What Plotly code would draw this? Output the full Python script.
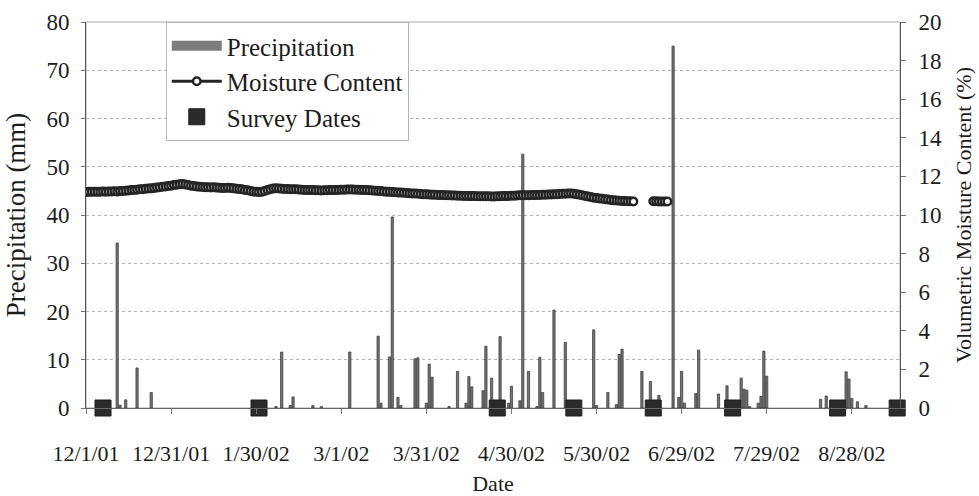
import pandas as pd
import plotly.graph_objects as go

# ---- daily precipitation (mm) ----
PRECIP_DATES = [
    "2001-12-12", "2001-12-13", "2001-12-15", "2001-12-19", "2001-12-24",
    "2002-02-06", "2002-02-08", "2002-02-11", "2002-02-12", "2002-02-19", "2002-02-22",
    "2002-03-04", "2002-03-14", "2002-03-15", "2002-03-18", "2002-03-19", "2002-03-21",
    "2002-03-22", "2002-03-27", "2002-03-28", "2002-03-31",
    "2002-04-01", "2002-04-02", "2002-04-08", "2002-04-11", "2002-04-14", "2002-04-15",
    "2002-04-16", "2002-04-20", "2002-04-21", "2002-04-23", "2002-04-26", "2002-04-29",
    "2002-04-30",
    "2002-05-03", "2002-05-04", "2002-05-06", "2002-05-09", "2002-05-10", "2002-05-11",
    "2002-05-15", "2002-05-19", "2002-05-29", "2002-05-30",
    "2002-06-03", "2002-06-06", "2002-06-07", "2002-06-08", "2002-06-15", "2002-06-18",
    "2002-06-20", "2002-06-21", "2002-06-26", "2002-06-28", "2002-06-29", "2002-06-30",
    "2002-07-04", "2002-07-05", "2002-07-12", "2002-07-15", "2002-07-20", "2002-07-21",
    "2002-07-22", "2002-07-23", "2002-07-26", "2002-07-27", "2002-07-28", "2002-07-29",
    "2002-08-17", "2002-08-19", "2002-08-26", "2002-08-27", "2002-08-28", "2002-08-30",
    "2002-09-02",
]
PRECIP_MM = [
    34.2, 0.6, 1.7, 8.3, 3.2,
    0.3, 11.6, 0.5, 2.3, 0.5, 0.3,
    11.6, 14.9, 1.0, 10.6, 39.6, 2.2,
    0.5, 10.2, 10.4, 1.0,
    9.1, 6.4, 0.3, 7.6, 1.0, 6.5,
    4.4, 3.6, 12.8, 6.2, 14.8, 1.0,
    4.5,
    1.5, 52.6, 7.6, 0.3, 10.5, 3.2,
    20.3, 13.6, 16.2, 0.5,
    3.2, 0.7, 11.1, 12.2, 7.6, 5.5,
    1.5, 2.6, 75.0, 2.2, 7.6, 1.0,
    3.0, 12.0, 2.9, 4.6, 6.2, 3.9,
    3.7, 0.3, 1.0, 2.4, 11.8, 6.6,
    1.8, 2.5, 7.5, 6.0, 2.0, 1.3,
    0.5,
]

# ---- daily volumetric moisture content (%), 12/1/01 onward ----
MOIST_DEC = [11.19, 11.20, 11.20, 11.21, 11.20, 11.21, 11.22, 11.21, 11.22, 11.22,
             11.23, 11.22, 11.24, 11.25, 11.26, 11.27, 11.29, 11.30, 11.31, 11.33,
             11.34, 11.36, 11.37, 11.38, 11.40, 11.42, 11.44, 11.46, 11.48, 11.50,
             11.52]
MOIST_JAN = [11.55, 11.57, 11.59, 11.60, 11.58, 11.55, 11.52, 11.50, 11.48, 11.46,
             11.45, 11.44, 11.44, 11.43, 11.44, 11.42, 11.41, 11.40, 11.40, 11.41,
             11.40, 11.38, 11.36, 11.35, 11.33, 11.30, 11.28, 11.25, 11.22, 11.20,
             11.19]
MOIST_FEB = [11.20, 11.25, 11.30, 11.34, 11.37, 11.38, 11.37, 11.36, 11.35, 11.35,
             11.34, 11.33, 11.33, 11.32, 11.31, 11.30, 11.30, 11.29, 11.29, 11.28,
             11.28, 11.27, 11.28, 11.28, 11.29, 11.29, 11.30, 11.30]
MOIST_MAR = [11.31, 11.31, 11.32, 11.32, 11.32, 11.31, 11.31, 11.30, 11.30, 11.29,
             11.28, 11.27, 11.26, 11.25, 11.24, 11.22, 11.21, 11.20, 11.19, 11.18,
             11.17, 11.16, 11.15, 11.14, 11.13, 11.12, 11.11, 11.10, 11.09, 11.08,
             11.07]
MOIST_APR = [11.06, 11.05, 11.05, 11.04, 11.03, 11.03, 11.02, 11.02, 11.01, 11.01,
             11.00, 11.00, 10.99, 10.99, 10.98, 10.98, 10.98, 10.97, 10.97, 10.97,
             10.97, 10.97, 10.96, 10.96, 10.97, 10.97, 10.98, 10.98, 10.99, 11.00]
MOIST_MAY = [11.00, 11.01, 11.02, 11.02, 11.02, 11.02, 11.03, 11.03, 11.04, 11.04,
             11.05, 11.05, 11.06, 11.06, 11.07, 11.08, 11.09, 11.10, 11.10, 11.11,
             11.11, 11.10, 11.08, 11.05, 11.02, 10.99, 10.96, 10.93, 10.90, 10.88,
             10.86]
# June 1-24; probe offline June 13-18
MOIST_JUN = [10.84, 10.82, 10.80, 10.78, 10.77, 10.75, 10.74, 10.73, 10.72, 10.71,
             10.71, 10.70, None, None, None, None, None, None,
             10.71, 10.71, 10.70, 10.70, 10.70, 10.70]

# ---- survey dates ----
SURVEY_DATES = ["2001-12-07", "2002-01-31", "2002-04-25", "2002-05-22",
                "2002-06-19", "2002-07-17", "2002-08-23", "2002-09-13"]
SURVEY_Y = [0, 0, 0, 0, 0, 0, 0, 0]

# ---- axis ticks ----
TICK_DATES = ["2001-12-01", "2001-12-31", "2002-01-30", "2002-03-01", "2002-03-31",
              "2002-04-30", "2002-05-30", "2002-06-29", "2002-07-29", "2002-08-28"]
TICK_LABELS = ["12/1/01", "12/31/01", "1/30/02", "3/1/02", "3/31/02",
               "4/30/02", "5/30/02", "6/29/02", "7/29/02", "8/28/02"]
PRECIP_TICKS = [0, 10, 20, 30, 40, 50, 60, 70, 80]
MOIST_TICKS = [0, 2, 4, 6, 8, 10, 12, 14, 16, 18, 20]

moisture = MOIST_DEC + MOIST_JAN + MOIST_FEB + MOIST_MAR + MOIST_APR + MOIST_MAY + MOIST_JUN
moist_dates = pd.date_range("2001-12-01", periods=len(moisture), freq="D")

SERIF = "Liberation Serif, Times New Roman, serif"
INK = "#1c1c1c"
BAR_FILL = "#737373"
DAY_MS = 86400000

fig = go.Figure()

fig.add_trace(go.Bar(
    x=PRECIP_DATES, y=PRECIP_MM, name="Precipitation",
    width=0.8 * DAY_MS,
    marker=dict(color=BAR_FILL, line=dict(color="#333333", width=0.7)),
    showlegend=False,
))

# wide grey swatch for the precipitation legend entry
fig.add_trace(go.Scatter(
    x=[None], y=[None], name="Precipitation", mode="lines",
    line=dict(color="#7d7d7d", width=17),
    legendgroup="p", showlegend=True,
))

fig.add_trace(go.Scatter(
    x=moist_dates, y=moisture, name="Moisture Content", yaxis="y2",
    mode="lines+markers", connectgaps=False,
    line=dict(color="#242424", width=3),
    marker=dict(symbol="circle", size=7.5, color="white",
                line=dict(color="#242424", width=2.5)),
    legendgroup="m",
))

fig.add_trace(go.Scatter(
    x=SURVEY_DATES, y=SURVEY_Y, name="Survey Dates",
    mode="markers", cliponaxis=False,
    marker=dict(symbol="square", size=16, color="#2b2b2b",
                line=dict(color="#1e1e1e", width=1)),
    legendgroup="s",
))

fig.update_layout(
    width=979, height=496,
    margin=dict(l=86, r=79, t=22, b=88, autoexpand=False),
    paper_bgcolor="white", plot_bgcolor="white",
    font=dict(family=SERIF, color=INK, size=22),
    showlegend=True,
    legend=dict(
        x=0.098, y=1.0, xanchor="left", yanchor="top",
        bgcolor="white", bordercolor="#b5b5b5", borderwidth=1,
        font=dict(family=SERIF, size=25, color=INK),
        tracegroupgap=0, itemwidth=50,
    ),
    xaxis=dict(
        type="date", automargin=False,
        range=["2001-12-01", "2002-09-14"],
        tickvals=TICK_DATES, ticktext=TICK_LABELS,
        ticks="outside", ticklen=5, tickcolor="#777",
        ticklabelstandoff=21,
        showline=True, linecolor="#666", linewidth=1,
        showgrid=False, zeroline=False,
        tickfont=dict(family=SERIF, size=22, color=INK),
        title=dict(text="Date", font=dict(family=SERIF, size=22, color=INK), standoff=25),
    ),
    yaxis=dict(
        range=[0, 80], tickvals=PRECIP_TICKS, automargin=False,
        ticks="outside", ticklen=4, tickcolor="#777",
        ticklabelstandoff=7,
        showline=True, linecolor="#555", linewidth=1,
        showgrid=True, gridcolor="#b4b4b4", gridwidth=1, griddash="dot",
        zeroline=False,
        tickfont=dict(family=SERIF, size=23, color=INK),
        title=dict(text="Precipitation (mm)", font=dict(family=SERIF, size=27, color=INK),
                   standoff=12),
    ),
    yaxis2=dict(
        range=[0, 20], tickvals=MOIST_TICKS, automargin=False,
        overlaying="y", side="right",
        ticks="outside", ticklen=5, tickcolor="#777",
        ticklabelstandoff=8,
        showline=True, linecolor="#555", linewidth=1,
        showgrid=False, zeroline=False,
        tickfont=dict(family=SERIF, size=23, color=INK),
        title=dict(text="Volumetric Moisture Content (%)",
                   font=dict(family=SERIF, size=22, color=INK), standoff=14),
    ),
    shapes=[dict(type="rect", xref="paper", yref="paper", x0=0, x1=1, y0=0, y1=1,
                 line=dict(color="#aaaaaa", width=1), layer="below")],
)

fig.write_html("out.html")
